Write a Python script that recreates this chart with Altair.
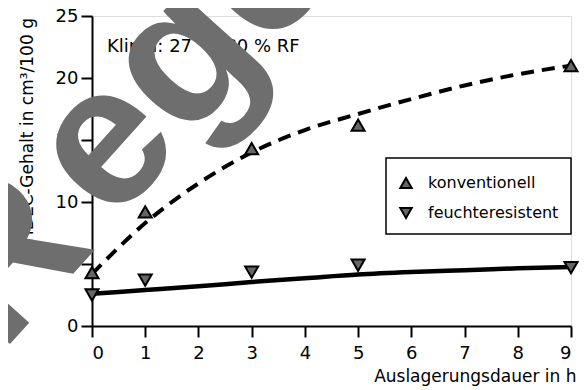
import altair as alt
import pandas as pd

# ---- data ----
hours = [0, 1, 3, 5, 9]
konv = [4.3, 9.2, 14.3, 16.2, 21.0]
feucht = [2.5, 3.7, 4.35, 4.9, 4.7]

fit_hours = [0, 1, 2, 3, 4, 5, 6, 7, 8, 9]
konv_fit = [4.2, 8.3, 11.5, 14.0, 15.8, 17.1, 18.3, 19.4, 20.3, 21.0]
feucht_fit = [2.6, 2.9, 3.2, 3.55, 3.85, 4.15, 4.35, 4.5, 4.65, 4.75]

series = ["konventionell", "feuchteresistent"]
shapes = ["triangle-up", "triangle-down"]
x_ticks = list(range(10))
y_ticks = [0, 5, 10, 15, 20, 25]

x_title = "Auslagerungsdauer in h"
y_title = "HDEC-Gehalt in cm³/100 g"
note = "Klima: 27 °C/80 % RF"
watermark_parts = ["R", "egel"]   # watermark "Regel", drawn in two pieces

FONT = "DejaVu Sans"
W, H = 479, 310

pts = pd.DataFrame({
    "h": hours * 2,
    "v": konv + feucht,
    "s": [series[0]] * len(hours) + [series[1]] * len(hours),
})
fit_k = pd.DataFrame({"h": fit_hours, "v": konv_fit})
fit_f = pd.DataFrame({"h": fit_hours, "v": feucht_fit})

xs = alt.Scale(domain=[0, 9], nice=False, zero=False)
ys = alt.Scale(domain=[0, 25], nice=False)

x_axis = alt.Axis(values=x_ticks, tickSize=11, tickWidth=2, domainWidth=2,
                  labelFontSize=18, labelPadding=7, labelFont=FONT,
                  grid=False, title=x_title, titleFont=FONT, titleFontSize=17,
                  titleFontWeight="normal", titleAlign="right",
                  titleBaseline="alphabetic", titleX=484, titleY=55,
                  labelColor="black", tickColor="black", domainColor="black",
                  titleColor="black")
y_axis = alt.Axis(values=y_ticks, tickSize=11, tickWidth=2, domainWidth=2,
                  labelFontSize=18, labelPadding=3, labelFont=FONT,
                  grid=False, title=y_title, titleFont=FONT, titleFontSize=17,
                  titleFontWeight="normal", titleAngle=270, titleAlign="center",
                  titleBaseline="middle", titleX=-65, titleY=114,
                  labelColor="black", tickColor="black", domainColor="black",
                  titleColor="black")

line_k = alt.Chart(fit_k).mark_line(
    color="black", strokeWidth=4, strokeDash=[13, 8], interpolate="monotone"
).encode(x=alt.X("h:Q", scale=xs, axis=x_axis), y=alt.Y("v:Q", scale=ys, axis=y_axis))

line_f = alt.Chart(fit_f).mark_line(
    color="black", strokeWidth=4.5, interpolate="monotone"
).encode(x=alt.X("h:Q", scale=xs), y=alt.Y("v:Q", scale=ys))

points = alt.Chart(pts).mark_point(
    filled=True, size=170, fill="#666", stroke="black", strokeWidth=2, opacity=1
).encode(
    x=alt.X("h:Q", scale=xs),
    y=alt.Y("v:Q", scale=ys),
    shape=alt.Shape("s:N", scale=alt.Scale(domain=series, range=shapes), legend=None),
)

note_layer = alt.Chart(pd.DataFrame({"t": [note]})).mark_text(
    font=FONT, fontSize=18, align="left", baseline="alphabetic", color="black"
).encode(x=alt.value(15), y=alt.value(36), text="t:N")

# legend box
leg_box = alt.Chart(pd.DataFrame({"a": [0]})).mark_rect(
    fill="white", stroke="black", strokeWidth=1.5
).encode(x=alt.value(294), x2=alt.value(479), y=alt.value(142), y2=alt.value(218))

leg_layers = []
for i, (name, shp) in enumerate(zip(series, shapes)):
    yy = 167 + 30 * i
    df = pd.DataFrame({"t": [name]})
    leg_layers.append(alt.Chart(df).mark_point(
        shape=shp, filled=True, size=130, fill="#666", stroke="black",
        strokeWidth=2, opacity=1
    ).encode(x=alt.value(314), y=alt.value(yy)))
    leg_layers.append(alt.Chart(df).mark_text(
        font=FONT, fontSize=16, align="left", baseline="middle", color="black"
    ).encode(x=alt.value(336), y=alt.value(yy), text="t:N"))

wm_pos = [(-91, 338), (20, 210)]
wm_layers = []
for part, (px, py) in zip(watermark_parts, wm_pos):
    wm_layers.append(alt.Chart(pd.DataFrame({"t": [part]})).mark_text(
        font="Liberation Sans", fontSize=200, fontWeight="bold", align="left",
        baseline="alphabetic", angle=312, color="#6e6e6e"
    ).encode(x=alt.value(px), y=alt.value(py), text="t:N"))

chart = alt.layer(line_k, line_f, points, note_layer, leg_box, *leg_layers, *wm_layers).properties(
    width=W, height=H,
    autosize=alt.AutoSizeParams(type="none"),
    padding={"left": 84, "top": 8, "right": 9, "bottom": 60},
).configure_view(
    stroke="black", strokeWidth=2
).configure(background="white")

chart.save("out.html", embed_options={"renderer": "svg", "actions": False})
